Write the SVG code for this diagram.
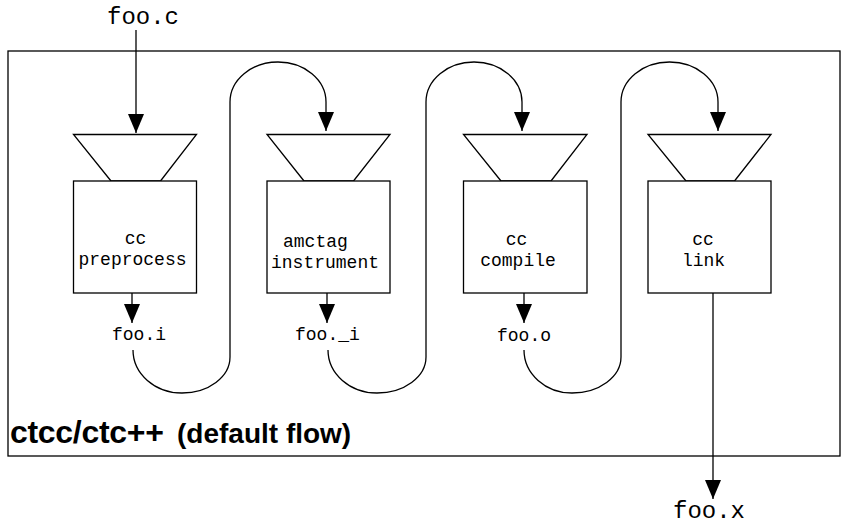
<svg xmlns="http://www.w3.org/2000/svg" width="843" height="527" viewBox="0 0 843 527">
<defs>
<marker id="ah" markerUnits="userSpaceOnUse" markerWidth="22" markerHeight="18" refX="19" refY="8" orient="auto">
<path d="M0,0 L19,8 L0,16 Z" fill="#000"/>
</marker>
<style>
.ln{fill:none;stroke:#000;stroke-width:1.3}
.sh{fill:#fff;stroke:#000;stroke-width:1.3}
.mono{font-family:"Liberation Mono","DejaVu Sans Mono",monospace;fill:#000}
.lbl{font-size:18px}
.file{font-size:18px}
.big{font-size:24px}
.title{font-family:"Liberation Sans",Arial,sans-serif;font-weight:bold;fill:#000}
</style>
</defs>
<rect width="843" height="527" fill="#fff"/>
<g id="frame">
<rect x="8" y="51" width="832" height="405" class="ln" stroke-width="1.5"/>
<text class="title" x="10" y="443" font-size="32" letter-spacing="-0.3">ctcc/ctc++</text>
<text class="title" x="177" y="443" font-size="28">(default flow)</text>
</g>
<g id="in-file"><text class="mono big" x="107" y="24">foo.c</text></g>
<g id="out-file"><text class="mono big" x="673" y="518">foo.x</text></g>
<g id="preprocess">
<polygon class="sh" points="73.5,134.5 196.5,134.5 160.5,181 111,181"/>
<rect class="sh" x="73.5" y="181" width="123" height="112"/>
<text class="mono lbl" x="135.5" y="244" text-anchor="middle">cc</text>
<text class="mono lbl" x="132.5" y="265" text-anchor="middle">preprocess</text>
</g>
<g id="instrument">
<polygon class="sh" points="267,134.5 390,134.5 353.5,181 304,181"/>
<rect class="sh" x="267" y="181" width="123" height="112"/>
<text class="mono lbl" x="283" y="247">amctag</text>
<text class="mono lbl" x="271" y="268">instrument</text>
</g>
<g id="compile">
<polygon class="sh" points="463.5,134.5 587,134.5 551,181 501,181"/>
<rect class="sh" x="463.5" y="181" width="123.5" height="112"/>
<text class="mono lbl" x="516.5" y="245" text-anchor="middle">cc</text>
<text class="mono lbl" x="518" y="266" text-anchor="middle">compile</text>
</g>
<g id="link">
<polygon class="sh" points="648,134.5 771,134.5 734.5,181 686,181"/>
<rect class="sh" x="648" y="181" width="123" height="112"/>
<text class="mono lbl" x="703" y="245" text-anchor="middle">cc</text>
<text class="mono lbl" x="703.5" y="266" text-anchor="middle">link</text>
</g>
<g id="file-i"><text class="mono file" x="112" y="340">foo.i</text></g>
<g id="file-_i"><text class="mono file" x="295" y="340">foo._i</text></g>
<g id="file-o"><text class="mono file" x="497" y="341">foo.o</text></g>
<g id="connectors">
<path class="ln" marker-end="url(#ah)" d="M136,30 L136,133"/>
<path class="ln" marker-end="url(#ah)" d="M132,293 L132,323"/>
<path class="ln" marker-end="url(#ah)" d="M327,293 L327,323"/>
<path class="ln" marker-end="url(#ah)" d="M524,293 L524,323"/>
<path class="ln" marker-end="url(#ah)" d="M713,293 L713,499"/>
<path class="ln" marker-end="url(#ah)" d="M133,350 A49,43 0 0 0 182,393 A48,36 0 0 0 230,357 L230,102 A48,40 0 0 1 278,62 A48,40 0 0 1 326,102 L326,131"/>
<path class="ln" marker-end="url(#ah)" d="M328,350 A49,43 0 0 0 377,393 A49,36 0 0 0 426,357 L426,102 A48,40 0 0 1 474,62 A48,40 0 0 1 522,102 L522,131"/>
<path class="ln" marker-end="url(#ah)" d="M524,350 A48,43 0 0 0 572,393 A49,36 0 0 0 621,357 L621,102 A48.5,40 0 0 1 669.5,62 A48.5,40 0 0 1 718,102 L718,131"/>
</g>
</svg>
